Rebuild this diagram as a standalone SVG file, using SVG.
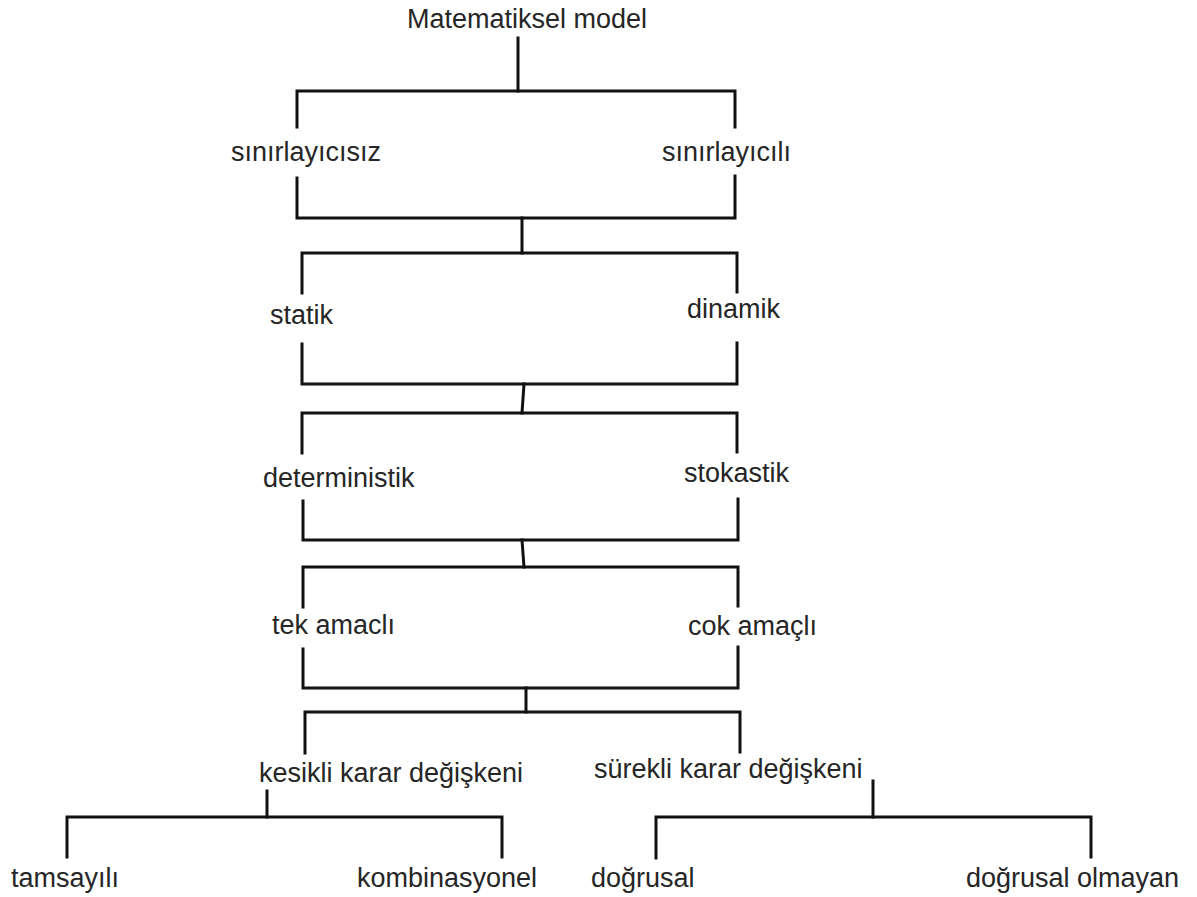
<svg xmlns="http://www.w3.org/2000/svg" width="1197" height="897" viewBox="0 0 1197 897">
  <style>
    .lbl { font-family: "Liberation Sans", Arial, sans-serif; font-size: 27px; fill: #262626; }
    .ln { fill: none; stroke: #111; stroke-width: 3; stroke-linecap: square; stroke-linejoin: miter; }
  </style>
  <rect width="1197" height="897" fill="#fff"/>

  <!-- connectors: brackets linking each level -->
  <g id="connectors" class="ln">
    <!-- Matematiksel model -> level 1 -->
    <path d="M518 38 V91"/>
    <path d="M297 127 V91 H735 V127"/>
    <!-- level 1 -> level 2 -->
    <path d="M297 178 V218 H735 V176"/>
    <path d="M522 218 V253"/>
    <path d="M302 293 V253 H737 V292"/>
    <!-- level 2 -> level 3 -->
    <path d="M302 344 V384 H737 V343"/>
    <path d="M524 384 L522 413"/>
    <path d="M302 453 V413 H737 V452"/>
    <!-- level 3 -> level 4 -->
    <path d="M303 501 V540 H738 V499"/>
    <path d="M522 540 L524 567"/>
    <path d="M303 607 V567 H738 V606"/>
    <!-- level 4 -> level 5 -->
    <path d="M303 649 V688 H738 V647"/>
    <path d="M526 688 V712"/>
    <path d="M305 753 V712 H740 V752"/>
    <!-- kesikli karar değişkeni -> leaves -->
    <path d="M267 791 V817"/>
    <path d="M67 857 V817 H502 V857"/>
    <!-- sürekli karar değişkeni -> leaves -->
    <path d="M873 781 V817"/>
    <path d="M656 858 V817 H1091 V857"/>
  </g>

  <g id="n-root"><text class="lbl" x="407" y="28">Matematiksel model</text></g>
  <g id="n-sinirlayicisiz"><text class="lbl" x="231" y="161">sınırlayıcısız</text></g>
  <g id="n-sinirlayicili"><text class="lbl" x="662" y="161">sınırlayıcılı</text></g>
  <g id="n-statik"><text class="lbl" x="270" y="324">statik</text></g>
  <g id="n-dinamik"><text class="lbl" x="687" y="318">dinamik</text></g>
  <g id="n-deterministik"><text class="lbl" x="263" y="487">deterministik</text></g>
  <g id="n-stokastik"><text class="lbl" x="684" y="482">stokastik</text></g>
  <g id="n-tek"><text class="lbl" x="272" y="634">tek amaclı</text></g>
  <g id="n-cok"><text class="lbl" x="688" y="635">cok amaçlı</text></g>
  <g id="n-kesikli"><text class="lbl" x="259" y="782">kesikli karar değişkeni</text></g>
  <g id="n-surekli"><text class="lbl" x="594" y="778">sürekli karar değişkeni</text></g>
  <g id="n-tamsayili"><text class="lbl" x="11" y="887">tamsayılı</text></g>
  <g id="n-kombinasyonel"><text class="lbl" x="357" y="887">kombinasyonel</text></g>
  <g id="n-dogrusal"><text class="lbl" x="591" y="887">doğrusal</text></g>
  <g id="n-dogrusal-olmayan"><text class="lbl" x="966" y="887">doğrusal olmayan</text></g>
</svg>
